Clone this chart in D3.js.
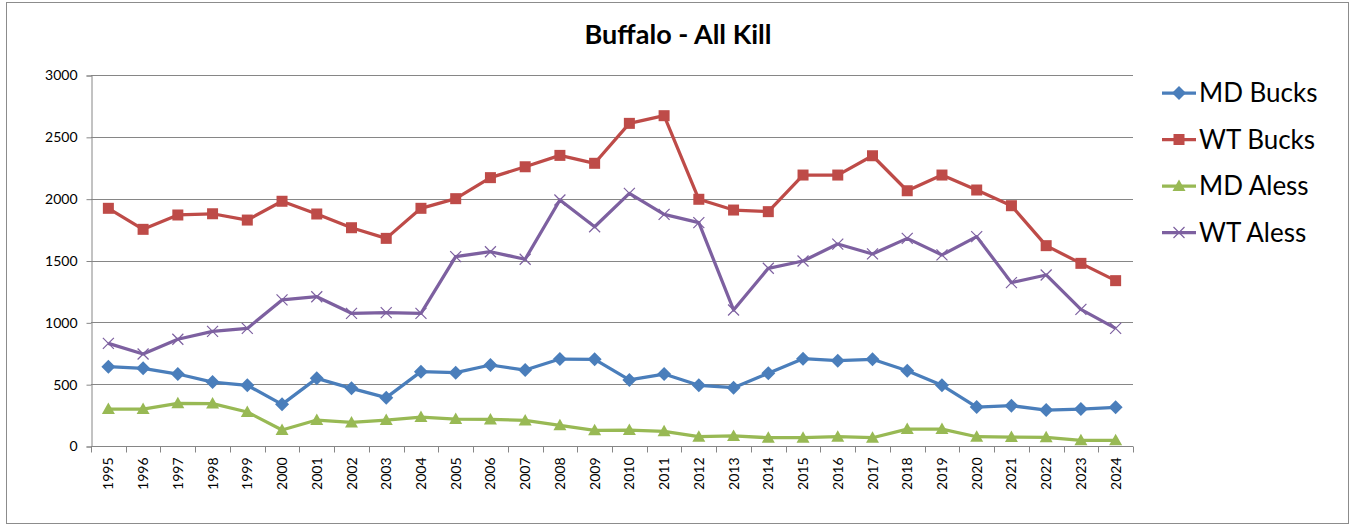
<!DOCTYPE html>
<html>
<head>
<meta charset="utf-8">
<script src="https://cdn.jsdelivr.net/npm/d3@7"></script>
<style>
  body { margin: 0; background: #fff; }
  text { font-family: Lato, "Open Sans", sans-serif; }
</style>
</head>
<body>
<script>
let years = ['1995','1996','1997','1998','1999','2000','2001','2002','2003','2004','2005','2006','2007','2008','2009',
             '2010','2011','2012','2013','2014','2015','2016','2017','2018','2019','2020','2021','2022','2023','2024']

let mdBucks = [641,628,582,517,491,337,547,466,391,601,593,655,614,703,701,534,582,491,472,588,706,690,701,609,491,315,326,291,299,313]
let wtBucks = [1922,1752,1868,1878,1827,1979,1876,1765,1679,1922,2000,2170,2258,2350,2286,2609,2671,1995,1908,1895,2191,2191,2347,2064,2191,2070,1943,1620,1477,1337]
let mdAless = [299,299,345,343,275,129,210,191,210,234,218,215,207,167,127,129,119,75,81,67,67,75,67,137,137,75,72,70,46,46]
let wtAless = [830,744,863,927,951,1181,1207,1073,1078,1073,1531,1571,1510,1989,1773,2043,1873,1806,1100,1437,1496,1633,1553,1679,1545,1693,1321,1383,1105,951]

let yTicks = [0,500,1000,1500,2000,2500,3000]

let series = [
  {name:'MD Bucks', values:mdBucks, color:'#4a7ebb', marker:'diamond'},
  {name:'WT Bucks', values:wtBucks, color:'#be4b48', marker:'square'},
  {name:'MD Aless', values:mdAless, color:'#98b954', marker:'triangle'},
  {name:'WT Aless', values:wtAless, color:'#7d60a0', marker:'x'}
]

let w = 1351
let h = 525
let pLeft = 91, pRight = 1133, pTop = 75, pBottom = 446

let svg = d3.select('body').append('svg').attr('width',w).attr('height',h)

// outer frame
svg.append('rect')
  .attr('x',6.5).attr('y',2.5).attr('width',1342).attr('height',521)
  .attr('fill','#fff').attr('stroke','#8c8c8c').attr('stroke-width',1)

svg.append('text')
  .attr('x',678).attr('y',44)
  .attr('text-anchor','middle')
  .attr('font-size','27px').attr('font-weight','bold')
  .attr('fill','#000')
  .text('Buffalo - All Kill')

let x = d3.scaleBand().domain(years).range([pLeft,pRight]).padding(0)
let y = d3.scaleLinear().domain([0,3000]).range([pBottom,pTop])
let cx = d => x(d) + x.bandwidth()/2

// gridlines
svg.append('g').selectAll('line')
  .data(yTicks.filter(d => d > 0))
  .enter().append('line')
  .attr('x1',pLeft).attr('x2',pRight)
  .attr('y1',d => Math.round(y(d))+0.5).attr('y2',d => Math.round(y(d))+0.5)
  .attr('stroke','#868686').attr('stroke-width',1)

// y axis
let yAxis = svg.append('g')
  .attr('transform','translate(' + (pLeft+0.5) + ',0.5)')
  .call(d3.axisLeft(y).tickValues(yTicks).tickSize(5).tickPadding(9).tickFormat(d3.format('d')))
yAxis.select('.domain').attr('stroke','#868686')
yAxis.selectAll('.tick line').attr('stroke','#868686')
yAxis.selectAll('text').attr('font-size','14px').attr('fill','#000').attr('font-family','Lato, sans-serif')

// x axis
let xg = svg.append('g').attr('transform','translate(0,' + (Math.round(pBottom)+0.5) + ')')
xg.append('line').attr('x1',pLeft).attr('x2',pRight).attr('stroke','#868686')
xg.selectAll('line.tk')
  .data(years.concat(['end']))
  .enter().append('line').attr('class','tk')
  .attr('x1',d => Math.round(d === 'end' ? pRight : x(d))+0.5)
  .attr('x2',d => Math.round(d === 'end' ? pRight : x(d))+0.5)
  .attr('y1',0).attr('y2',6)
  .attr('stroke','#868686')
xg.selectAll('text')
  .data(years)
  .enter().append('text')
  .attr('transform',d => 'translate(' + (cx(d)+5) + ',11) rotate(-90)')
  .attr('text-anchor','end')
  .attr('font-size','14px')
  .attr('fill','#000')
  .text(d => d)

let line = d3.line().x((d,i) => cx(years[i])).y(d => y(d))

function drawMarker(g, type, color) {
  if (type === 'diamond') {
    g.append('path').attr('d','M0,-7L7,0L0,7L-7,0Z').attr('fill',color)
  } else if (type === 'square') {
    g.append('rect').attr('x',-5.5).attr('y',-5.5).attr('width',11).attr('height',11).attr('fill',color)
  } else if (type === 'triangle') {
    g.append('path').attr('d','M0,-6.5L6.5,5L-6.5,5Z').attr('fill',color)
  } else {
    g.append('path').attr('d','M-5.5,-5.5L5.5,5.5M-5.5,5.5L5.5,-5.5').attr('stroke',color).attr('stroke-width',1.2).attr('fill','none')
  }
}

series.forEach(s => {
  svg.append('path')
    .datum(s.values)
    .attr('d',line)
    .attr('fill','none')
    .attr('stroke',s.color)
    .attr('stroke-width',3.25)
    .attr('stroke-linejoin','round')
  svg.append('g').selectAll('g')
    .data(s.values)
    .enter().append('g')
    .attr('transform',(d,i) => 'translate(' + cx(years[i]) + ',' + y(d) + ')')
    .each(function() { drawMarker(d3.select(this), s.marker, s.color) })
})

// legend
let legend = svg.append('g')
series.forEach((s,i) => {
  let ly = 93 + i*46.5
  legend.append('line')
    .attr('x1',1162).attr('x2',1196).attr('y1',ly).attr('y2',ly)
    .attr('stroke',s.color).attr('stroke-width',3.25)
  drawMarker(legend.append('g').attr('transform','translate(1179,' + ly + ')'), s.marker, s.color)
  legend.append('text')
    .attr('x',1199).attr('y',ly + 9)
    .attr('font-size','26px').attr('fill','#000')
    .text(s.name)
})
</script>
</body>
</html>
